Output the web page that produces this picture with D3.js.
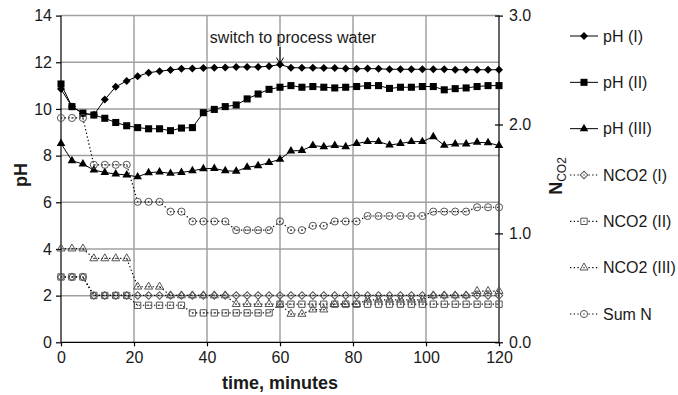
<!DOCTYPE html>
<html>
<head>
<meta charset="utf-8">
<script src="https://cdn.jsdelivr.net/npm/d3@7"></script>
<style>
  body { margin: 0; background: #fff; }
  text { font-family: Arial, "Liberation Sans", sans-serif; fill: #1a1a1a; }
</style>
</head>
<body>
<svg id="chart" width="678" height="395"></svg>
<script>
// time, minutes
const times = [0, 3, 6, 9, 12, 15, 18, 21, 24, 27, 30, 33, 36, 39, 42, 45, 48, 51, 54, 57, 60,
  63, 66, 69, 72, 75, 78, 81, 84, 87, 90, 93, 96, 99, 102, 105, 108, 111, 114, 117, 120];

// pH series (left axis)
const phI = [10.85, 10.1, 9.8, 9.75, 10.4, 10.95, 11.2, 11.4, 11.55, 11.62, 11.67, 11.72, 11.73, 11.75,
  11.77, 11.78, 11.8, 11.8, 11.8, 11.83, 11.9, 11.77, 11.76, 11.76, 11.75, 11.75, 11.73, 11.72, 11.73,
  11.72, 11.7, 11.7, 11.7, 11.7, 11.7, 11.7, 11.68, 11.68, 11.68, 11.68, 11.68];
const phII = [11.07, 10.1, 9.82, 9.74, 9.6, 9.42, 9.28, 9.2, 9.15, 9.15, 9.07, 9.18, 9.2, 9.84, 9.98,
  10.1, 10.17, 10.43, 10.64, 10.84, 10.93, 11.0, 10.93, 10.96, 10.93, 10.9, 10.93, 10.96, 11.0, 11.0,
  10.88, 10.93, 10.93, 10.96, 10.96, 10.82, 10.87, 10.9, 10.96, 11.0, 11.0];
const phIII = [8.52, 7.78, 7.64, 7.38, 7.28, 7.21, 7.17, 7.09, 7.27, 7.3, 7.24, 7.28, 7.35, 7.44, 7.45,
  7.35, 7.33, 7.5, 7.57, 7.7, 7.84, 8.2, 8.22, 8.43, 8.38, 8.43, 8.38, 8.52, 8.6, 8.6, 8.45, 8.52, 8.6,
  8.6, 8.81, 8.44, 8.5, 8.5, 8.57, 8.55, 8.43];

// N_CO2 series (right axis)
const nco2I = [0.6, 0.6, 0.6, 0.43, 0.43, 0.43, 0.43, 0.43, 0.43, 0.43, 0.43, 0.43, 0.43, 0.43, 0.43,
  0.43, 0.43, 0.43, 0.43, 0.43, 0.43, 0.43, 0.43, 0.43, 0.43, 0.43, 0.43, 0.43, 0.43, 0.43, 0.43, 0.43,
  0.43, 0.43, 0.43, 0.43, 0.43, 0.43, 0.43, 0.43, 0.43];
const nco2II = [0.6, 0.6, 0.6, 0.43, 0.43, 0.43, 0.43, 0.34, 0.34, 0.34, 0.34, 0.34, 0.27, 0.27, 0.27,
  0.27, 0.27, 0.27, 0.27, 0.27, 0.35, 0.35, 0.35, 0.35, 0.35, 0.35, 0.35, 0.35, 0.35, 0.35, 0.35, 0.35,
  0.35, 0.35, 0.35, 0.35, 0.35, 0.35, 0.35, 0.35, 0.35];
const nco2III = [0.86, 0.86, 0.86, 0.77, 0.77, 0.77, 0.77, 0.51, 0.51, 0.51, 0.43, 0.43, 0.43, 0.43,
  0.43, 0.43, 0.35, 0.35, 0.35, 0.35, 0.35, 0.26, 0.26, 0.30, 0.30, 0.35, 0.35, 0.35, 0.39, 0.39, 0.39,
  0.39, 0.39, 0.39, 0.43, 0.43, 0.43, 0.43, 0.47, 0.47, 0.47];
const sumN = [2.06, 2.06, 2.06, 1.63, 1.63, 1.63, 1.63, 1.29, 1.29, 1.29, 1.2, 1.2, 1.11, 1.11, 1.11,
  1.11, 1.03, 1.03, 1.03, 1.03, 1.11, 1.03, 1.03, 1.07, 1.07, 1.11, 1.11, 1.11, 1.16, 1.16, 1.16, 1.16,
  1.16, 1.16, 1.2, 1.2, 1.2, 1.2, 1.24, 1.24, 1.24];

const xTicks = [0, 20, 40, 60, 80, 100, 120];
const phTicks = [0, 2, 4, 6, 8, 10, 12, 14];
const nTicks = [0, 1, 2, 3];
const seriesNames = ["pH (I)", "pH (II)", "pH (III)", "NCO2 (I)", "NCO2 (II)", "NCO2 (III)", "Sum N"];

const svg = d3.select("#chart");
const plotLeft = 61, plotRight = 499, plotTop = 15.6, plotBottom = 342.3;

const x = d3.scaleLinear().domain([0, 120]).range([plotLeft, plotRight]);
const y = d3.scaleLinear().domain([0, 14]).range([plotBottom, plotTop]);
const yN = d3.scaleLinear().domain([0, 3]).range([plotBottom, plotTop]);

const series = [
  { values: phI, scale: y, type: "diamond", size: 32, open: false },
  { values: phII, scale: y, type: "square", size: 50, open: false },
  { values: phIII, scale: y, type: "triangle", size: 32, open: false },
  { values: nco2I, scale: yN, type: "diamond", size: 28, open: true },
  { values: nco2II, scale: yN, type: "square", size: 40, open: true },
  { values: nco2III, scale: yN, type: "triangle", size: 28, open: true },
  { values: sumN, scale: yN, type: "circle", size: 40, open: true }
];
series.forEach((s, i) => s.name = seriesNames[i]);

function symbolPath(s) {
  const t = { diamond: d3.symbolSquare, square: d3.symbolSquare, triangle: d3.symbolTriangle, circle: d3.symbolCircle }[s.type];
  return d3.symbol().type(t).size(s.size)();
}

function drawMarker(g, s, cx, cy) {
  const m = g.append("path")
    .attr("d", symbolPath(s))
    .attr("transform", `translate(${cx},${cy})` + (s.type === "diamond" ? " rotate(45)" : ""));
  if (s.open) {
    m.attr("fill", "none").attr("stroke", "#555").attr("stroke-width", 1);
    g.append("circle").attr("cx", cx).attr("cy", cy).attr("r", 0.8).attr("fill", "#555");
  } else {
    m.attr("fill", "#000");
  }
}

// gridlines
const grid = svg.append("g");
grid.selectAll(".hg").data(phTicks.slice(1))
  .enter().append("line")
  .attr("x1", plotLeft).attr("x2", plotRight)
  .attr("y1", d => y(d)).attr("y2", d => y(d))
  .attr("stroke", "#a0a0a0").attr("stroke-width", 1.5);
grid.selectAll(".vg").data(xTicks.slice(1, -1))
  .enter().append("line")
  .attr("x1", d => x(d)).attr("x2", d => x(d))
  .attr("y1", plotTop).attr("y2", plotBottom)
  .attr("stroke", "#a0a0a0").attr("stroke-width", 1.5);

// axes
const fontSize = "16px";
const axL = svg.append("g").attr("transform", `translate(${plotLeft},0)`)
  .call(d3.axisLeft(y).tickValues(phTicks).tickSize(5).tickPadding(4).tickFormat(d3.format("d")));
const axB = svg.append("g").attr("transform", `translate(0,${plotBottom})`)
  .call(d3.axisBottom(x).tickValues(xTicks).tickSize(4).tickPadding(5).tickFormat(d3.format("d")));
const axR = svg.append("g").attr("transform", `translate(${plotRight},0)`)
  .call(d3.axisRight(yN).tickValues(nTicks).tickSize(4).tickPadding(6).tickFormat(d3.format(".1f")));
axR.selectAll(".tick line").attr("x1", -4);
[axL, axB, axR].forEach(a => {
  a.select(".domain").attr("stroke", "#000").attr("stroke-width", 1.2);
  a.selectAll(".tick line").attr("stroke", "#000").attr("stroke-width", 1.2);
  a.selectAll("text").attr("font-size", fontSize).attr("fill", "#1a1a1a")
    .style("font-family", "Arial, 'Liberation Sans', sans-serif");
});
axL.select(".domain").attr("d", `M0,${plotBottom}V${plotTop}`);
axR.select(".domain").attr("d", `M0,${plotBottom}V${plotTop}`);
axB.select(".domain").attr("d", `M${plotLeft},0H${plotRight}`);

// series lines and markers
series.forEach(s => {
  const line = d3.line().x((d, i) => x(times[i])).y(d => s.scale(d));
  svg.append("path").datum(s.values)
    .attr("d", line)
    .attr("fill", "none")
    .attr("stroke", "#000")
    .attr("stroke-width", s.open ? 1.2 : 1)
    .attr("stroke-dasharray", s.open ? "1.3,2.4" : null);
});
series.forEach(s => {
  const g = svg.append("g");
  s.values.forEach((v, i) => drawMarker(g, s, x(times[i]), s.scale(v)));
});

// annotation
const ax60 = x(60);
const tipY = y(phI[20]) - 1;
svg.append("text").attr("x", 293).attr("y", 43).attr("text-anchor", "middle")
  .attr("font-size", fontSize).text("switch to process water");
svg.append("line").attr("x1", ax60).attr("x2", ax60).attr("y1", 47).attr("y2", tipY)
  .attr("stroke", "#000").attr("stroke-width", 1);
svg.append("path")
  .attr("d", `M${ax60 - 3.5},${tipY - 6}L${ax60},${tipY}L${ax60 + 3.5},${tipY - 6}`)
  .attr("fill", "none").attr("stroke", "#000").attr("stroke-width", 1);

// axis titles
svg.append("text").attr("transform", "translate(27,175) rotate(-90)")
  .attr("text-anchor", "middle").attr("font-size", "18px").attr("font-weight", "bold").text("pH");
svg.append("text").attr("x", 280).attr("y", 389).attr("text-anchor", "middle")
  .attr("font-size", "18px").attr("font-weight", "bold").text("time, minutes");
const nTitle = svg.append("text").attr("transform", "translate(562,176) rotate(-90)")
  .attr("text-anchor", "middle");
nTitle.append("tspan").attr("font-size", "18px").attr("font-weight", "bold").text("N");
nTitle.append("tspan").attr("font-size", "12px").attr("dy", 4).text("CO2");

// legend
const legY = d3.scalePoint().domain(seriesNames).range([36, 314]);
series.forEach(s => {
  const g = svg.append("g");
  const ly = legY(s.name);
  g.append("line").attr("x1", 570).attr("x2", 598).attr("y1", ly).attr("y2", ly)
    .attr("stroke", "#000").attr("stroke-width", s.open ? 1.2 : 1)
    .attr("stroke-dasharray", s.open ? "1.3,2.4" : null);
  if (s.open) {
    g.append("rect").attr("x", 580).attr("y", ly - 4).attr("width", 8).attr("height", 8).attr("fill", "#fff");
  }
  drawMarker(g, s, 584, ly);
  g.append("text").attr("x", 603).attr("y", ly).attr("dy", "0.35em")
    .attr("font-size", fontSize).text(s.name);
});
</script>
</body>
</html>
